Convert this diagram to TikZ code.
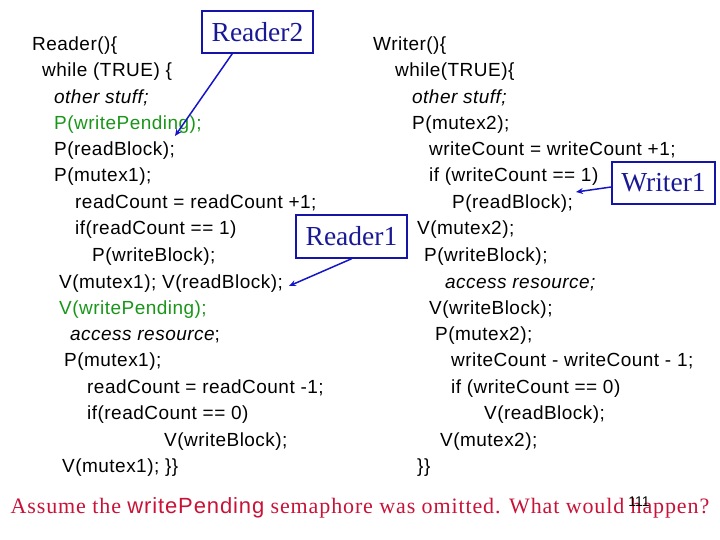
\documentclass[tikz,border=0pt]{standalone}
\usepackage{fontspec}
\setmainfont{Liberation Serif}
\newfontfamily\arial{Liberation Sans}
\newfontfamily\arialsp[LetterSpace=2.5]{Liberation Sans}
\newfontfamily\timessp[LetterSpace=4]{Liberation Serif}
\newfontfamily\arialbt[LetterSpace=4]{Liberation Sans}
\usetikzlibrary{arrows.meta}
\definecolor{codegreen}{RGB}{25,150,25}
\definecolor{lblblue}{RGB}{25,25,150}
\definecolor{boxblue}{RGB}{20,20,170}
\definecolor{arrblue}{RGB}{20,20,200}
\definecolor{crim}{RGB}{200,18,55}
\begin{document}
\begin{tikzpicture}[x=1pt,y=-1pt,
  code/.style={anchor=base west, inner sep=0pt, font=\arialsp\fontsize{19}{19}\selectfont},
  lbl/.style={draw=boxblue, line width=1.6pt, text=lblblue, inner sep=0pt, font=\fontsize{27.5}{27.5}\selectfont},
  conn/.style={draw=arrblue, line width=1.5pt, -{Stealth[length=7pt,width=6pt]}}]
\useasboundingbox (0,0) rectangle (720,540);
% Reader code
\node[code] (r1)  at (32,51)  {Reader()\{};
\node[code] (r2)  at (42,77)  {while (TRUE) \{};
\node[code] (r3)  at (54,104) {\itshape other stuff;};
\node[code,text=codegreen] (r4)  at (54,130) {P(writePending);};
\node[code] (r5)  at (54,156) {P(readBlock);};
\node[code] (r6)  at (54,182) {P(mutex1);};
\node[code] (r7)  at (75,208) {readCount = readCount +1;};
\node[code] (r8)  at (75,235) {if(readCount == 1)};
\node[code] (r9)  at (92,261) {P(writeBlock);};
\node[code] (r10) at (59,288) {V(mutex1); V(readBlock);};
\node[code,text=codegreen] (r11) at (59,314) {V(writePending);};
\node[code] (r12) at (70,340) {\itshape access resource\upshape;};
\node[code] (r13) at (64,366) {P(mutex1);};
\node[code] (r14) at (87,393) {readCount = readCount -1;};
\node[code] (r15) at (87,419) {if(readCount == 0)};
\node[code] (r16) at (164,446) {V(writeBlock);};
\node[code] (r17) at (62,472) {V(mutex1); \}\}};
% Writer code
\node[code] (w1)  at (373,51)  {Writer()\{};
\node[code] (w2)  at (395,77)  {while(TRUE)\{};
\node[code] (w3)  at (412,104) {\itshape other stuff;};
\node[code] (w4)  at (412,130) {P(mutex2);};
\node[code] (w5)  at (429,156) {writeCount = writeCount +1;};
\node[code] (w6)  at (429,182) {if (writeCount == 1)};
\node[code] (w7)  at (452,208) {P(readBlock);};
\node[code] (w8)  at (417,235) {V(mutex2);};
\node[code] (w9)  at (424,261) {P(writeBlock);};
\node[code] (w10) at (445,288) {\itshape access resource;};
\node[code] (w11) at (429,314) {V(writeBlock);};
\node[code] (w12) at (435,340) {P(mutex2);};
\node[code] (w13) at (451,366) {writeCount - writeCount - 1;};
\node[code] (w14) at (451,393) {if (writeCount == 0)};
\node[code] (w15) at (484,419) {V(readBlock);};
\node[code] (w16) at (440,446) {V(mutex2);};
\node[code] (w17) at (417,472) {\}\}};
% labels
\node[lbl, minimum width=111pt, minimum height=42pt] (reader2) at (257.5,32) {Reader2};
\node[lbl, minimum width=111pt, minimum height=43pt] (reader1) at (351.5,236.5) {Reader1};
\node[lbl, minimum width=103pt, minimum height=42pt] (writer1) at (663.5,183) {Writer1};
% arrow ends
\coordinate (t2) at (175,136);
\coordinate (t1) at (289,286);
\coordinate (tw) at (576,192);
\draw[conn] (reader2.south west) ++(31,0) -- (t2);
\draw[conn] (reader1.south) -- (t1);
\draw[conn] (writer1.west) ++(0,4) -- (tw);
% bottom
\node[anchor=base, inner sep=0pt, text=crim, font=\timessp\fontsize{22}{22}\selectfont] (q) at (360,513)
  {Assume the {\arialbt writePending} semaphore was omitted. What would happen?};
\node[anchor=base, inner sep=0pt, font=\arial\fontsize{14}{14}\selectfont] (pg) at (639,506) {111};
\end{tikzpicture}
\end{document}
